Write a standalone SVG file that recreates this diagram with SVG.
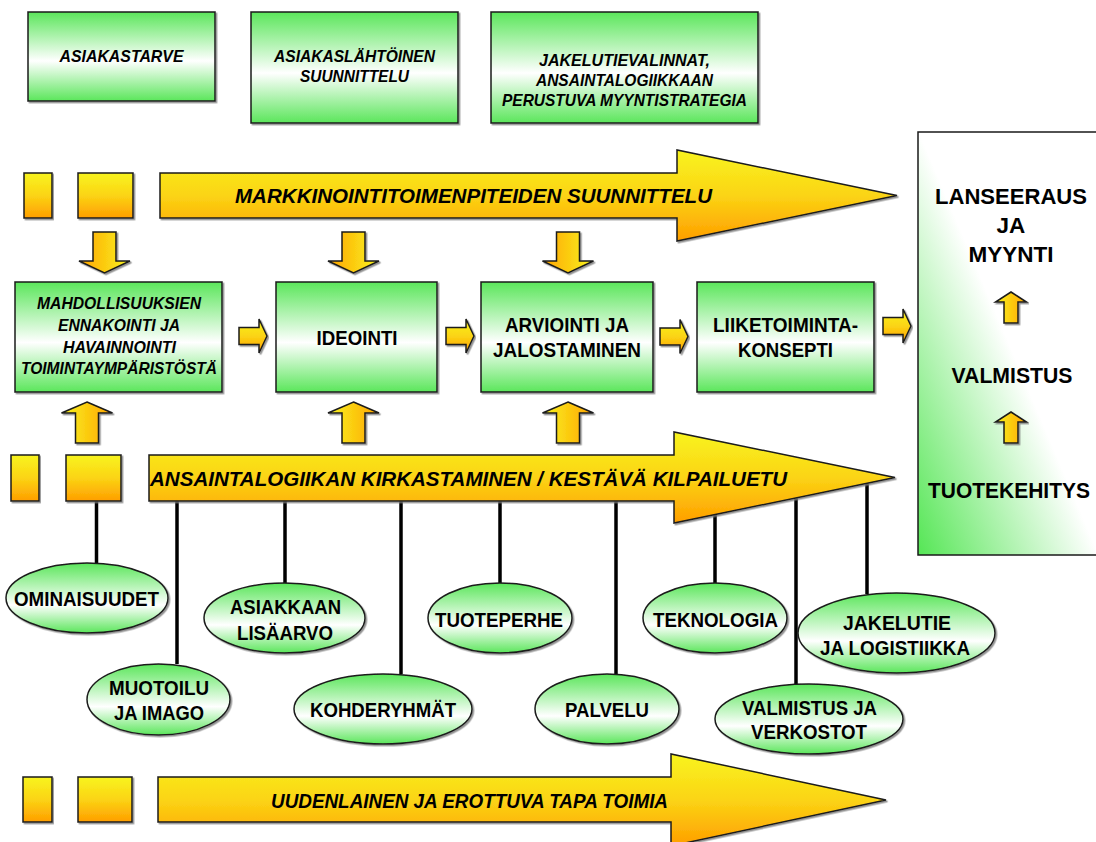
<svg xmlns="http://www.w3.org/2000/svg" width="1096" height="842" viewBox="0 0 1096 842">
<defs>
<linearGradient id="gBox" x1="0" y1="0" x2="0" y2="1">
<stop offset="0" stop-color="#5BE65B"/><stop offset="0.55" stop-color="#FFFFFF"/><stop offset="1" stop-color="#5BE65B"/>
</linearGradient>
<linearGradient id="gEll" x1="0" y1="0" x2="0" y2="1">
<stop offset="0" stop-color="#5BE65B"/><stop offset="0.6" stop-color="#FFFFFF"/><stop offset="1" stop-color="#5BE65B"/>
</linearGradient>
<linearGradient id="gPanel" x1="0" y1="1" x2="1" y2="0.1">
<stop offset="0" stop-color="#55E655"/><stop offset="0.5" stop-color="#FFFFFF"/><stop offset="1" stop-color="#FFFFFF"/>
</linearGradient>
<linearGradient id="gYV" x1="0" y1="0" x2="0" y2="1">
<stop offset="0" stop-color="#F8F420"/><stop offset="0.5" stop-color="#FBD414"/><stop offset="1" stop-color="#FF9E00"/>
</linearGradient>
<linearGradient id="gYDown" x1="0" y1="0" x2="1" y2="0">
<stop offset="0" stop-color="#FFA400"/><stop offset="1" stop-color="#F8F420"/>
</linearGradient>
<linearGradient id="gYUp" x1="0" y1="0" x2="1" y2="0">
<stop offset="0" stop-color="#F8F420"/><stop offset="1" stop-color="#FFA400"/>
</linearGradient>
<filter id="sh" x="-5%" y="-5%" width="110%" height="115%">
<feDropShadow dx="1.5" dy="1.5" stdDeviation="0.6" flood-color="#777" flood-opacity="0.8"/>
</filter>
</defs>
<style>
.box{fill:url(#gBox);stroke:#1a1a1a;stroke-width:1.5;filter:url(#sh)}
.ell{fill:url(#gEll);stroke:#1a1a1a;stroke-width:1.5;filter:url(#sh)}
.yv{fill:url(#gYV);stroke:#1a1a1a;stroke-width:1.5;filter:url(#sh)}
.yd{fill:url(#gYDown);stroke:#1a1a1a;stroke-width:1.5;filter:url(#sh)}
.yu{fill:url(#gYUp);stroke:#1a1a1a;stroke-width:1.5;filter:url(#sh)}
.ln{stroke:#000;stroke-width:3.5;fill:none}
text{font-family:"Liberation Sans",Arial,sans-serif;font-weight:bold;fill:#000;text-anchor:middle}
.ti{font-size:16.5px;font-style:italic}
.tb{font-size:19.5px}
.te{font-size:20px}
.tr{font-size:22.5px}
.tbig{font-size:21px;font-style:italic}
</style>
<rect width="1096" height="842" fill="#fff"/>

<g id="panel-right">
<rect x="918" y="132" width="200" height="423" fill="url(#gPanel)" stroke="#1a1a1a" stroke-width="1.5"/>
<text class="tr" x="1011" y="204" textLength="152" lengthAdjust="spacingAndGlyphs">LANSEERAUS</text>
<text class="tr" x="1011" y="233">JA</text>
<text class="tr" x="1011" y="262">MYYNTI</text>
<path class="yu" d="M1011,292 L1026.5,302 H1018 V323 H1004 V302 H995.5 Z"/>
<text class="tr" x="1012" y="383" textLength="121" lengthAdjust="spacingAndGlyphs">VALMISTUS</text>
<path class="yu" d="M1011,412 L1026.5,422 H1018 V443 H1004 V422 H995.5 Z"/>
<text class="tr" x="1009" y="498" textLength="162" lengthAdjust="spacingAndGlyphs">TUOTEKEHITYS</text>
</g>

<g id="top-boxes">
<g id="asiakastarve"><rect class="box" x="28" y="12" width="187" height="89"/><text class="ti" x="121.5" y="62" textLength="124" lengthAdjust="spacingAndGlyphs">ASIAKASTARVE</text></g>
<g id="asiakaslahtoinen"><rect class="box" x="251" y="12" width="207" height="111"/><text class="ti" x="354.5" y="62" textLength="161" lengthAdjust="spacingAndGlyphs">ASIAKASLÄHTÖINEN</text><text class="ti" x="354.5" y="82" textLength="109" lengthAdjust="spacingAndGlyphs">SUUNNITTELU</text></g>
<g id="jakelutievalinnat"><rect class="box" x="491" y="12" width="267" height="111"/><text class="ti" x="624.5" y="66" textLength="171" lengthAdjust="spacingAndGlyphs">JAKELUTIEVALINNAT,</text><text class="ti" x="624.5" y="85.5" textLength="177" lengthAdjust="spacingAndGlyphs">ANSAINTALOGIIKKAAN</text><text class="ti" x="624.5" y="106" textLength="245" lengthAdjust="spacingAndGlyphs">PERUSTUVA MYYNTISTRATEGIA</text></g>
</g>

<g id="connectors">
<line class="ln" x1="96.5" y1="495" x2="96.5" y2="563"/>
<line class="ln" x1="177" y1="490" x2="177" y2="664"/>
<line class="ln" x1="285" y1="490" x2="285" y2="583"/>
<line class="ln" x1="401" y1="490" x2="401" y2="674"/>
<line class="ln" x1="500" y1="490" x2="500" y2="583"/>
<line class="ln" x1="616" y1="490" x2="616" y2="674"/>
<line class="ln" x1="715" y1="505" x2="715" y2="583"/>
<line class="ln" x1="796" y1="490" x2="796" y2="685"/>
<line class="ln" x1="867" y1="478" x2="867" y2="594"/>
<path class="yd" d="M93,232 H116 V261 H130 L104.5,273 L79,261 H93 Z"/>
<path class="yd" d="M342,232 H365 V261 H379 L353.5,273 L328,261 H342 Z"/>
<path class="yd" d="M556.5,232 H579.5 V261 H593.5 L568,273 L542.5,261 H556.5 Z"/>
<path class="yu" d="M87,402 L112.5,413 H98.5 V443 H75.5 V413 H61.5 Z"/>
<path class="yu" d="M353.5,402 L379,413 H365 V443 H342 V413 H328 Z"/>
<path class="yu" d="M568,402 L593.5,413 H579.5 V443 H556.5 V413 H542.5 Z"/>
<path class="yv" d="M239,327.5 H259 V319 L267,336 L259,353 V344.5 H239 Z"/>
<path class="yv" d="M446,327.5 H466 V319 L474,336 L466,353 V344.5 H446 Z"/>
<path class="yv" d="M660,328 H680 V319.5 L688,336.5 L680,353.5 V345 H660 Z"/>
<path class="yv" d="M883,317.5 H903 V309 L911,326 L903,343 V334.5 H883 Z"/>
</g>

<g id="arrow-markkinointi">
<rect class="yv" x="24" y="173" width="28" height="45"/>
<rect class="yv" x="78" y="173" width="55" height="45"/>
<path class="yv" d="M160,173 H677 V150 L897,195.5 L677,241 V218 H160 Z"/>
<text class="tbig" x="473.5" y="203" textLength="477" lengthAdjust="spacingAndGlyphs">MARKKINOINTITOIMENPITEIDEN SUUNNITTELU</text>
</g>

<g id="arrow-ansaintalogiikka">
<rect class="yv" x="11" y="455" width="28" height="46"/>
<rect class="yv" x="66" y="455" width="55" height="46"/>
<path class="yv" d="M149,455 H674 V432 L895,477.5 L674,523 V501 H149 Z"/>
<text class="tbig" x="468.5" y="486" textLength="637" lengthAdjust="spacingAndGlyphs">ANSAINTALOGIIKAN KIRKASTAMINEN / KESTÄVÄ KILPAILUETU</text>
</g>

<g id="arrow-uudenlainen">
<rect class="yv" x="23" y="777" width="29" height="45"/>
<rect class="yv" x="78" y="777" width="54" height="45"/>
<path class="yv" d="M158,777 H671 V754 L886,800 L671,846 V822 H158 Z"/>
<text class="tbig" x="469.5" y="808" textLength="397" lengthAdjust="spacingAndGlyphs">UUDENLAINEN JA EROTTUVA TAPA TOIMIA</text>
</g>

<g id="mid-boxes">
<g id="mahdollisuuksien"><rect class="box" x="15" y="282" width="207" height="110"/>
<text class="ti" x="119" y="309" textLength="164" lengthAdjust="spacingAndGlyphs">MAHDOLLISUUKSIEN</text><text class="ti" x="119" y="331" textLength="122" lengthAdjust="spacingAndGlyphs">ENNAKOINTI JA</text><text class="ti" x="119.5" y="353" textLength="113" lengthAdjust="spacingAndGlyphs">HAVAINNOINTI</text><text class="ti" x="119" y="373.5" textLength="196" lengthAdjust="spacingAndGlyphs">TOIMINTAYMPÄRISTÖSTÄ</text></g>
<g id="ideointi"><rect class="box" x="276" y="282" width="161" height="110"/><text class="tb" x="357" y="345" textLength="81" lengthAdjust="spacingAndGlyphs">IDEOINTI</text></g>
<g id="arviointi"><rect class="box" x="481" y="282" width="172" height="110"/><text class="tb" x="567" y="332" textLength="124" lengthAdjust="spacingAndGlyphs">ARVIOINTI JA</text><text class="tb" x="567" y="357" textLength="148" lengthAdjust="spacingAndGlyphs">JALOSTAMINEN</text></g>
<g id="liiketoimintakonsepti"><rect class="box" x="697" y="282" width="177" height="110"/><text class="tb" x="785.5" y="332" textLength="145" lengthAdjust="spacingAndGlyphs">LIIKETOIMINTA-</text><text class="tb" x="785.5" y="357" textLength="95" lengthAdjust="spacingAndGlyphs">KONSEPTI</text></g>
</g>

<g id="ellipses">
<g id="ominaisuudet"><ellipse class="ell" cx="87" cy="598" rx="81" ry="35"/><text class="te" x="86.5" y="606" textLength="145" lengthAdjust="spacingAndGlyphs">OMINAISUUDET</text></g>
<g id="muotoilu"><ellipse class="ell" cx="158.5" cy="699.5" rx="71.5" ry="35.5"/><text class="te" x="159" y="695" textLength="100" lengthAdjust="spacingAndGlyphs">MUOTOILU</text><text class="te" x="159" y="720" textLength="90" lengthAdjust="spacingAndGlyphs">JA IMAGO</text></g>
<g id="asiakkaan"><ellipse class="ell" cx="284.5" cy="618" rx="80.5" ry="35"/><text class="te" x="285.5" y="614" textLength="111" lengthAdjust="spacingAndGlyphs">ASIAKKAAN</text><text class="te" x="285" y="640" textLength="96" lengthAdjust="spacingAndGlyphs">LISÄARVO</text></g>
<g id="kohderyhmat"><ellipse class="ell" cx="383" cy="709" rx="89" ry="35"/><text class="te" x="383" y="717" textLength="146" lengthAdjust="spacingAndGlyphs">KOHDERYHMÄT</text></g>
<g id="tuoteperhe"><ellipse class="ell" cx="500" cy="618" rx="72" ry="35"/><text class="te" x="499" y="627" textLength="128" lengthAdjust="spacingAndGlyphs">TUOTEPERHE</text></g>
<g id="palvelu"><ellipse class="ell" cx="607" cy="709" rx="72" ry="35"/><text class="te" x="607" y="717" textLength="84" lengthAdjust="spacingAndGlyphs">PALVELU</text></g>
<g id="teknologia"><ellipse class="ell" cx="715" cy="618" rx="72" ry="35"/><text class="te" x="715.5" y="627" textLength="125" lengthAdjust="spacingAndGlyphs">TEKNOLOGIA</text></g>
<g id="jakelutie"><ellipse class="ell" cx="896.5" cy="633" rx="98.5" ry="40"/><text class="te" x="897" y="630" textLength="108" lengthAdjust="spacingAndGlyphs">JAKELUTIE</text><text class="te" x="895" y="655" textLength="150" lengthAdjust="spacingAndGlyphs">JA LOGISTIIKKA</text></g>
<g id="valmistus"><ellipse class="ell" cx="809" cy="719" rx="94" ry="35"/><text class="te" x="809.5" y="715" textLength="135" lengthAdjust="spacingAndGlyphs">VALMISTUS JA</text><text class="te" x="809" y="739" textLength="116" lengthAdjust="spacingAndGlyphs">VERKOSTOT</text></g>
</g>
</svg>
